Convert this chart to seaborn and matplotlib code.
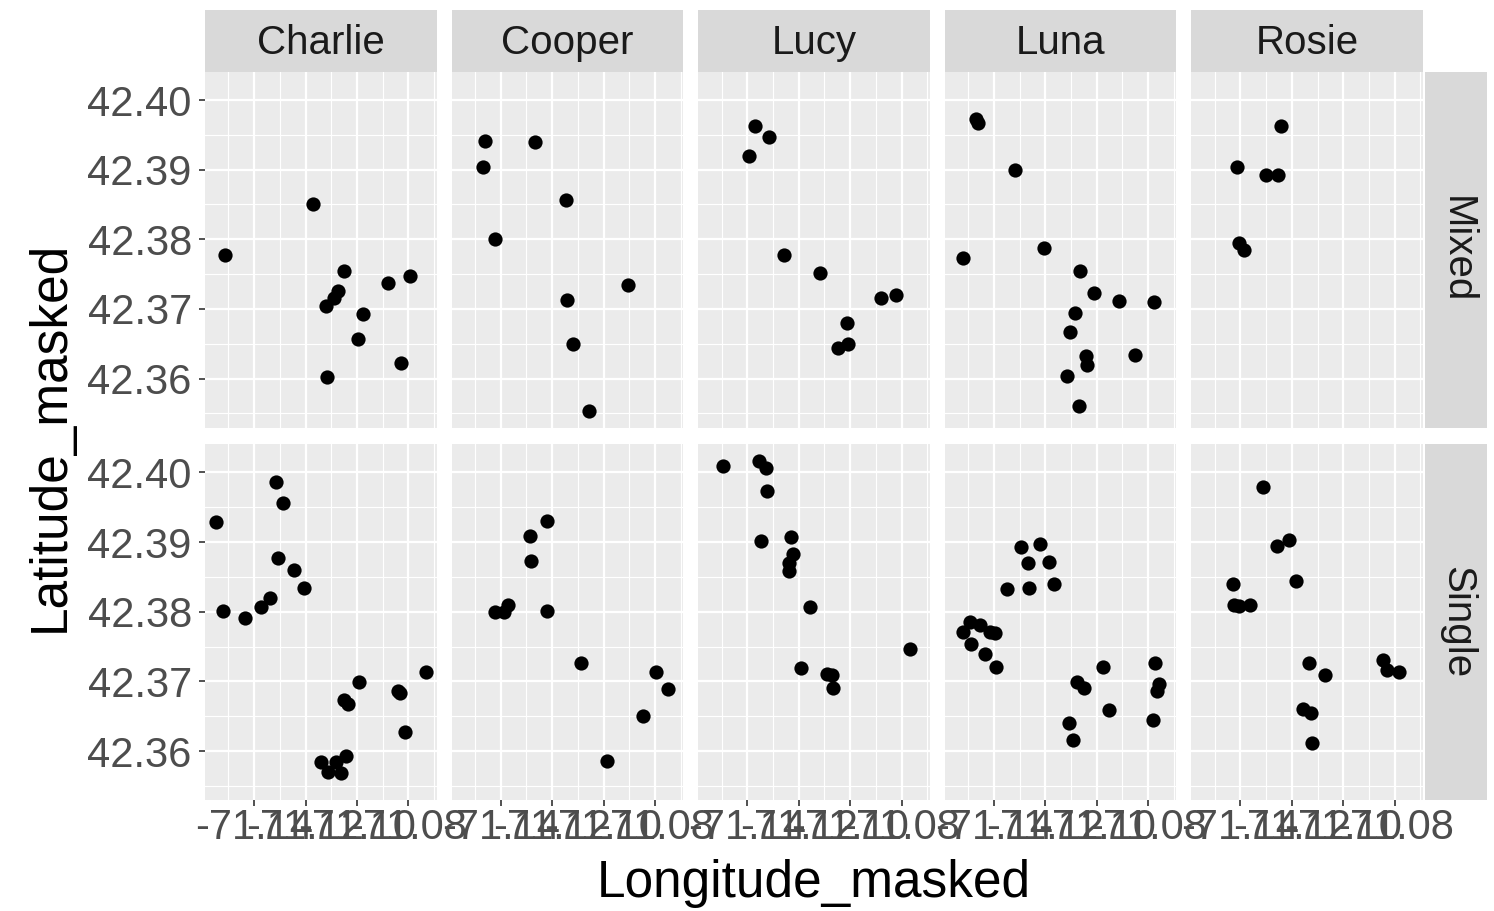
import numpy as np
import pandas as pd
import matplotlib
matplotlib.use('Agg')
import matplotlib.pyplot as plt
import seaborn as sns

# ================================================================
# facet layout
dogs = ['Charlie', 'Cooper', 'Lucy', 'Luna', 'Rosie']
walk_types = ['Mixed', 'Single']

x_ticks = [-71.14, -71.12, -71.10, -71.08]
x_tick_labels = ['-71.14', '-71.12', '-71.10', '-71.08']
y_ticks = [42.36, 42.37, 42.38, 42.39, 42.40]
y_tick_labels = ['42.36', '42.37', '42.38', '42.39', '42.40']

# ================================================================
# points
charlie_mixed_lon = [-71.1512, -71.1169, -71.1050, -71.1073, -71.1088, -71.1119, -71.0977, -71.0996, -71.1115, -71.0881, -71.0792, -71.0827]
charlie_mixed_lat = [42.3777, 42.3851, 42.3754, 42.3726, 42.3716, 42.3704, 42.3693, 42.3657, 42.3603, 42.3737, 42.3747, 42.3623]

cooper_mixed_lon = [-71.1462, -71.1469, -71.1423, -71.1265, -71.1146, -71.1142, -71.1119, -71.1058, -71.0904]
cooper_mixed_lat = [42.3941, 42.3904, 42.3801, 42.3940, 42.3857, 42.3713, 42.3650, 42.3553, 42.3734]

lucy_mixed_lon = [-71.1369, -71.1315, -71.1392, -71.1258, -71.1119, -71.1012, -71.1046, -71.1008, -71.0881, -71.0823]
lucy_mixed_lat = [42.3963, 42.3947, 42.3920, 42.3777, 42.3751, 42.3680, 42.3644, 42.3650, 42.3716, 42.3720]

luna_mixed_lon = [-71.1469, -71.1462, -71.1519, -71.1319, -71.1204, -71.1065, -71.1012, -71.1085, -71.1104, -71.1042,
                  -71.1038, -71.1115, -71.1069, -71.0912, -71.0777, -71.0850]
luna_mixed_lat = [42.3973, 42.3967, 42.3773, 42.3900, 42.3787, 42.3754, 42.3723, 42.3694, 42.3667, 42.3633,
                  42.3620, 42.3604, 42.3560, 42.3711, 42.3710, 42.3634]

rosie_mixed_lon = [-71.1415, -71.1404, -71.1388, -71.1300, -71.1254, -71.1242]
rosie_mixed_lat = [42.3904, 42.3794, 42.3784, 42.3893, 42.3893, 42.3963]

charlie_single_lon = [-71.1550, -71.1519, -71.1435, -71.1373, -71.1338, -71.1315, -71.1288, -71.1308, -71.1246, -71.1204, -71.1138,
                      -71.1112, -71.1081, -71.1042, -71.1062, -71.1050, -71.1035, -71.0992, -71.0842, -71.0831, -71.0812, -71.0731]
charlie_single_lat = [42.3929, 42.3801, 42.3791, 42.3807, 42.3820, 42.3986, 42.3956, 42.3877, 42.3860, 42.3834, 42.3584,
                      42.3570, 42.3584, 42.3593, 42.3569, 42.3673, 42.3667, 42.3699, 42.3687, 42.3684, 42.3627, 42.3713]

cooper_single_lon = [-71.1423, -71.1388, -71.1373, -71.1281, -71.1285, -71.1219, -71.1219, -71.1088, -71.0988, -71.0846, -71.0796, -71.0750]
cooper_single_lat = [42.3799, 42.3799, 42.3810, 42.3873, 42.3909, 42.3930, 42.3801, 42.3726, 42.3586, 42.3651, 42.3714, 42.3689]

lucy_single_lon = [-71.1496, -71.1354, -71.1327, -71.1323, -71.1346, -71.1231, -71.1223, -71.1238, -71.1238, -71.1158,
                   -71.1192, -71.1088, -71.1069, -71.1065, -71.0769]
lucy_single_lat = [42.4009, 42.4017, 42.4007, 42.3973, 42.3901, 42.3907, 42.3883, 42.3870, 42.3859, 42.3807,
                   42.3719, 42.3711, 42.3709, 42.3690, 42.3747]

luna_single_lon = [-71.1519, -71.1492, -71.1488, -71.1454, -71.1435, -71.1415, -71.1392, -71.1396, -71.1350, -71.1296,
                   -71.1269, -71.1262, -71.1219, -71.1185, -71.1165, -71.1108, -71.1092, -71.1077, -71.1050, -71.0977,
                   -71.0954, -71.0773, -71.0765, -71.0758, -71.0781]
luna_single_lat = [42.3771, 42.3786, 42.3754, 42.3781, 42.3740, 42.3771, 42.3721, 42.3769, 42.3833, 42.3893,
                   42.3870, 42.3834, 42.3897, 42.3871, 42.3840, 42.3641, 42.3616, 42.3699, 42.3690, 42.3721,
                   42.3659, 42.3726, 42.3687, 42.3696, 42.3644]

rosie_single_lon = [-71.1431, -71.1427, -71.1404, -71.1362, -71.1312, -71.1258, -71.1212, -71.1185, -71.1135, -71.1158,
                    -71.1127, -71.1123, -71.1073, -71.0846, -71.0831, -71.0785]
rosie_single_lat = [42.3840, 42.3810, 42.3809, 42.3810, 42.3979, 42.3894, 42.3903, 42.3844, 42.3726, 42.3661,
                    42.3654, 42.3611, 42.3709, 42.3731, 42.3717, 42.3714]

# ================================================================

frames = []
series = {
    ('Charlie', 'Mixed'): (charlie_mixed_lon, charlie_mixed_lat),
    ('Cooper', 'Mixed'): (cooper_mixed_lon, cooper_mixed_lat),
    ('Lucy', 'Mixed'): (lucy_mixed_lon, lucy_mixed_lat),
    ('Luna', 'Mixed'): (luna_mixed_lon, luna_mixed_lat),
    ('Rosie', 'Mixed'): (rosie_mixed_lon, rosie_mixed_lat),
    ('Charlie', 'Single'): (charlie_single_lon, charlie_single_lat),
    ('Cooper', 'Single'): (cooper_single_lon, cooper_single_lat),
    ('Lucy', 'Single'): (lucy_single_lon, lucy_single_lat),
    ('Luna', 'Single'): (luna_single_lon, luna_single_lat),
    ('Rosie', 'Single'): (rosie_single_lon, rosie_single_lat),
}
for (dog, wt), (lon, lat) in series.items():
    frames.append(pd.DataFrame({'Dog': dog, 'WalkType': wt,
                                'Longitude_masked': lon, 'Latitude_masked': lat}))
walkDF = pd.concat(frames, ignore_index=True)

# ggplot style 5% expansion
xmin, xmax = walkDF['Longitude_masked'].min(), walkDF['Longitude_masked'].max()
ymin, ymax = walkDF['Latitude_masked'].min(), walkDF['Latitude_masked'].max()
xpad = (xmax - xmin) * 0.05
ypad = (ymax - ymin) * 0.05

plt.rcParams['font.family'] = ['Liberation Sans', 'DejaVu Sans']
plt.rcParams['axes.unicode_minus'] = False

W, H = 1494, 911
fig = plt.figure(figsize=(W / 100, H / 100), dpi=100)
gs = fig.add_gridspec(2, 5, left=205 / W, right=1423 / W, top=1 - 72 / H, bottom=1 - 800 / H,
                      wspace=15 / 232, hspace=17 / 356)

for r, wt in enumerate(walk_types):
    for c, dog in enumerate(dogs):
        ax = fig.add_subplot(gs[r, c])
        ax.set_facecolor('#EBEBEB')
        sub = walkDF[(walkDF['Dog'] == dog) & (walkDF['WalkType'] == wt)]
        sns.scatterplot(data=sub, x='Longitude_masked', y='Latitude_masked', ax=ax,
                        color='black', s=105, linewidth=0, zorder=3)
        ax.set_xticks(x_ticks)
        ax.set_yticks(y_ticks)
        ax.set_xticks([t - 0.01 for t in x_ticks] + [x_ticks[-1] + 0.01], minor=True)
        ax.set_yticks([t + 0.005 for t in y_ticks[:-1]] + [y_ticks[0] - 0.005], minor=True)
        ax.set_xlim(xmin - xpad, xmax + xpad)
        ax.set_ylim(ymin - ypad, ymax + ypad)
        ax.grid(which='major', color='white', linewidth=1.6, zorder=0)
        ax.grid(which='minor', color='white', linewidth=0.8, zorder=0)
        ax.set_axisbelow(True)
        for sp in ax.spines.values():
            sp.set_visible(False)
        ax.set_xlabel('')
        ax.set_ylabel('')
        ax.tick_params(which='minor', length=0)
        ax.tick_params(which='major', length=4, width=1.2, color='#333333',
                       labelsize=30, labelcolor='#4D4D4D', pad=2)
        ax.tick_params(axis='y', pad=5.5)
        if r == 1:
            ax.set_xticklabels(x_tick_labels)
        else:
            ax.tick_params(axis='x', which='major', length=0, labelbottom=False)
        if c == 0:
            ax.set_yticklabels(y_tick_labels)
        else:
            ax.tick_params(axis='y', which='major', length=0, labelleft=False)

        pos = ax.get_position()
        if r == 0:
            sax = fig.add_axes([pos.x0, pos.y1, pos.width, 62 / H])
            sax.set_facecolor('#D9D9D9')
            sax.set_xticks([])
            sax.set_yticks([])
            for sp in sax.spines.values():
                sp.set_visible(False)
            sax.text(0.5, 0.46, dog, ha='center', va='center', fontsize=29, color='#1A1A1A',
                     transform=sax.transAxes)
        if c == len(dogs) - 1:
            sax = fig.add_axes([pos.x1 + 2 / W, pos.y0, 62 / W, pos.height])
            sax.set_facecolor('#D9D9D9')
            sax.set_xticks([])
            sax.set_yticks([])
            for sp in sax.spines.values():
                sp.set_visible(False)
            sax.text(0.52, 0.5, wt, ha='center', va='center', fontsize=29, color='#1A1A1A',
                     rotation=-90, transform=sax.transAxes)

fig.text((205 + 1423) / 2 / W, 1 - 884 / H, 'Longitude_masked', ha='center', va='center',
         fontsize=37, color='black')
fig.text(50 / W, 1 - 436 / H, 'Latitude_masked', ha='center', va='center',
         fontsize=37, color='black', rotation=90)

fig.savefig('out.png', dpi=100)
plt.close(fig)
